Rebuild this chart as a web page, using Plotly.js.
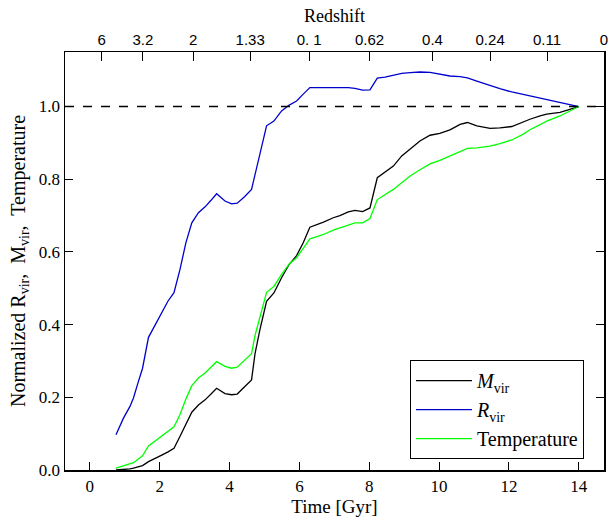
<!DOCTYPE html>
<html>
<head>
<meta charset="utf-8">
<script src="https://cdn.plot.ly/plotly-3.0.1.min.js"></script>
<style>html,body{margin:0;padding:0;background:#fff;}#chart{width:611px;height:517px;}</style>
</head>
<body>
<div id="chart"></div>
<script>
// Time in Gyr
const timeGyr = [0.75, 0.96, 1.15, 1.25, 1.39, 1.51, 1.68, 1.87, 2.06, 2.24, 2.41, 2.58, 2.75, 2.92, 3.11, 3.30, 3.47, 3.63, 3.87, 4.06, 4.22, 4.43, 4.63, 4.73, 4.87, 5.06, 5.27, 5.49, 5.71, 5.92, 6.11, 6.30, 6.50, 6.69, 6.97, 7.16, 7.40, 7.59, 7.81, 8.02, 8.23, 8.45, 8.69, 8.93, 9.17, 9.45, 9.74, 10.02, 10.31, 10.60, 10.81, 11.08, 11.46, 11.74, 12.08, 12.41, 12.60, 12.89, 13.08, 13.46, 14.0];

const mVir = [0.000, 0.001, 0.003, 0.005, 0.008, 0.012, 0.023, 0.031, 0.041, 0.050, 0.060, 0.092, 0.126, 0.159, 0.179, 0.193, 0.209, 0.225, 0.210, 0.207, 0.209, 0.228, 0.248, 0.320, 0.386, 0.464, 0.487, 0.529, 0.566, 0.590, 0.625, 0.668, 0.675, 0.682, 0.694, 0.700, 0.710, 0.714, 0.711, 0.721, 0.804, 0.820, 0.836, 0.864, 0.884, 0.905, 0.921, 0.926, 0.936, 0.951, 0.956, 0.947, 0.940, 0.941, 0.945, 0.958, 0.965, 0.974, 0.979, 0.984, 1.0];

const rVir = [0.097, 0.142, 0.175, 0.198, 0.243, 0.280, 0.365, 0.400, 0.433, 0.465, 0.488, 0.551, 0.625, 0.680, 0.708, 0.724, 0.742, 0.760, 0.740, 0.732, 0.734, 0.752, 0.772, 0.813, 0.878, 0.947, 0.960, 0.988, 1.004, 1.015, 1.034, 1.052, 1.052, 1.052, 1.053, 1.053, 1.052, 1.050, 1.045, 1.046, 1.078, 1.081, 1.086, 1.091, 1.093, 1.095, 1.094, 1.090, 1.084, 1.082, 1.079, 1.070, 1.057, 1.049, 1.040, 1.033, 1.029, 1.024, 1.020, 1.012, 1.0];

const temperature = [0.005, 0.011, 0.017, 0.020, 0.030, 0.039, 0.066, 0.080, 0.094, 0.107, 0.119, 0.152, 0.195, 0.232, 0.253, 0.267, 0.283, 0.298, 0.285, 0.280, 0.283, 0.302, 0.320, 0.370, 0.423, 0.489, 0.505, 0.538, 0.567, 0.584, 0.610, 0.636, 0.642, 0.648, 0.660, 0.666, 0.675, 0.680, 0.680, 0.692, 0.744, 0.757, 0.772, 0.790, 0.809, 0.826, 0.842, 0.852, 0.864, 0.878, 0.885, 0.886, 0.891, 0.898, 0.908, 0.924, 0.936, 0.950, 0.960, 0.974, 1.0];

// Redshift axis (top): positions in Gyr and labels
const redshiftTickTimes = [0.34, 1.52, 2.96, 4.59, 6.28, 8.01, 9.81, 11.46, 13.09, 14.72];
const redshiftTickLabels = ["6", "3.2", "2", "1.33", "0. 1", "0.62", "0.4", "0.24", "0.11", "0"];

const xRange = [-0.71, 14.72];
const yRange = [0, 1.15];

const serif = "Liberation Serif, DejaVu Serif, serif";
const sans = "Liberation Sans, Arial, sans-serif";

const traces = [
  {x: timeGyr, y: mVir, mode: "lines", name: "<i>M</i><sub>vir</sub>", line: {color: "#000000", width: 1.3}},
  {x: timeGyr, y: rVir, mode: "lines", name: "<i>R</i><sub>vir</sub>", line: {color: "#0000cc", width: 1.3}},
  {x: timeGyr, y: temperature, mode: "lines", name: "Temperature", line: {color: "#00ff00", width: 1.3}},
  {x: [], y: [], xaxis: "x2", yaxis: "y", mode: "lines", showlegend: false, hoverinfo: "skip"}
];

const layout = {
  width: 611, height: 517,
  margin: {l: 65, r: 7, t: 52, b: 47, pad: 0},
  paper_bgcolor: "#ffffff", plot_bgcolor: "#ffffff",
  showlegend: true,
  font: {family: serif, color: "#000"},
  xaxis: {
    range: xRange, showgrid: false, zeroline: false,
    tickmode: "array", tickvals: [0, 2, 4, 6, 8, 10, 12, 14],
    ticks: "inside", ticklen: 8, tickwidth: 1, tickcolor: "#000",
    showline: true, linecolor: "#000", linewidth: 1.5, mirror: true,
    tickfont: {family: serif, size: 17, color: "#000"},
    title: {text: "Time [Gyr]", font: {family: serif, size: 19, color: "#000"}, standoff: 4}
  },
  xaxis2: {
    overlaying: "x", side: "top", range: xRange, showgrid: false, zeroline: false,
    tickmode: "array", tickvals: redshiftTickTimes, ticktext: redshiftTickLabels,
    ticks: "inside", ticklen: 9, tickwidth: 1, tickcolor: "#000",
    showline: true, linecolor: "#000", linewidth: 1.5,
    tickfont: {family: sans, size: 15, color: "#000"},
    title: {text: "Redshift", font: {family: serif, size: 18, color: "#000"}, standoff: 3}
  },
  yaxis: {
    range: yRange, showgrid: false, zeroline: false,
    tickmode: "array", tickvals: [0, 0.2, 0.4, 0.6, 0.8, 1.0],
    ticktext: ["0.0", "0.2", "0.4", "0.6", "0.8", "1.0"],
    ticks: "inside", ticklen: 8, tickwidth: 1, tickcolor: "#000",
    showline: true, linecolor: "#000", linewidth: 1.5, mirror: "ticks",
    tickfont: {family: serif, size: 17, color: "#000"},
    title: {text: "Normalized R<sub>vir</sub>,  M<sub>vir</sub>,  Temperature", font: {family: serif, size: 20, color: "#000"}, standoff: 8}
  },
  shapes: [
    {type: "line", xref: "paper", x0: 0, x1: 1, yref: "y", y0: 1, y1: 1,
     line: {color: "#000", width: 1.3, dash: "dash"}}
  ],
  legend: {
    x: 0.64, y: 0.026, xanchor: "left", yanchor: "bottom",
    bgcolor: "#ffffff", bordercolor: "#000", borderwidth: 1,
    font: {family: serif, size: 20, color: "#000"},
    itemwidth: 56, tracegroupgap: 0
  }
};

Plotly.newPlot("chart", traces, layout, {displayModeBar: false, staticPlot: true});
</script>
</body>
</html>
